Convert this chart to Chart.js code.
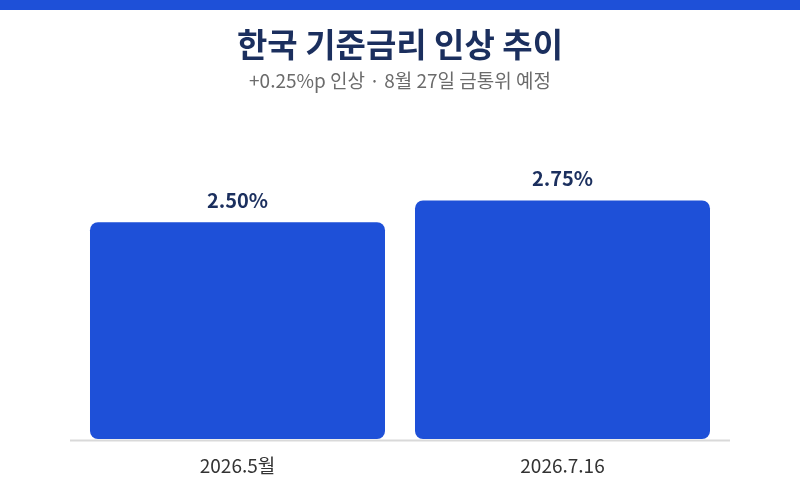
<!DOCTYPE html>
<html lang="ko">
<head>
<meta charset="utf-8">
<script src="https://cdn.jsdelivr.net/npm/chart.js@4/dist/chart.umd.min.js"></script>
<style>
  html, body { margin: 0; padding: 0; background: #fff; }
  #wrap { width: 800px; height: 500px; position: relative; }
</style>
</head>
<body>
<div id="wrap"><canvas id="chart"></canvas></div>
<script>
  /* ─── Data ─── */
  const categories = ["2026.5월", "2026.7.16"];
  const rates = [2.5, 2.75];
  const valueLabels = ["2.50%", "2.75%"];

  const FONT = "'Noto Sans CJK KR', 'Noto Sans', sans-serif";
  const BLUE = "#1e50d8";
  const NAVY = "#1b2f5e";

  /* ─── Top strip ─── */
  const topStrip = {
    id: "topStrip",
    beforeDraw: (chart) => {
      const ctx = chart.ctx;
      ctx.save();
      ctx.fillStyle = BLUE;
      ctx.fillRect(0, 0, chart.width, 10);
      ctx.restore();
    },
  };

  /* ─── Baseline (a bit wider than the plot area) ─── */
  const baseline = {
    id: "baseline",
    afterDatasetsDraw: (chart) => {
      const { ctx, chartArea } = chart;
      ctx.save();
      ctx.strokeStyle = "#d9d9d9";
      ctx.lineWidth = 2;
      ctx.beginPath();
      ctx.moveTo(chartArea.left - 5, chartArea.bottom + 1.5);
      ctx.lineTo(chartArea.right + 5, chartArea.bottom + 1.5);
      ctx.stroke();
      ctx.restore();
    },
  };

  /* ─── Value labels above bars ─── */
  const valueLabelPlugin = {
    id: "valueLabels",
    afterDatasetsDraw: (chart) => {
      const ctx = chart.ctx;
      const meta = chart.getDatasetMeta(0);
      ctx.save();
      ctx.font = `bold 20px ${FONT}`;
      ctx.fillStyle = NAVY;
      ctx.textAlign = "center";
      ctx.textBaseline = "bottom";
      meta.data.forEach((bar, i) => {
        ctx.fillText(valueLabels[i], bar.x, bar.y - 12);
      });
      ctx.restore();
    },
  };

  new Chart(document.getElementById("chart"), {
    type: "bar",
    data: {
      labels: categories,
      datasets: [{
        data: rates,
        backgroundColor: BLUE,
        borderRadius: 8,
        borderSkipped: false,
        barPercentage: 0.9077,
        categoryPercentage: 1,
      }],
    },
    options: {
      responsive: true,
      maintainAspectRatio: false,
      animation: false,
      layout: { padding: { left: 75, right: 75, top: 0, bottom: 7 } },
      plugins: {
        legend: { display: false },
        tooltip: { enabled: false },
        title: {
          display: true,
          text: "한국 기준금리 인상 추이",
          color: NAVY,
          font: { family: FONT, size: 33, weight: "bold", lineHeight: 1.2 },
          padding: { top: 25, bottom: 0 },
        },
        subtitle: {
          display: true,
          text: "+0.25%p 인상 · 8월 27일 금통위 예정",
          color: "#6b6b6b",
          font: { family: FONT, size: 19, lineHeight: 1.2 },
          padding: { top: 5, bottom: 43 },
        },
      },
      scales: {
        x: {
          grid: { display: false, drawTicks: false },
          border: { display: false },
          ticks: { color: "#333", padding: 15.6, font: { family: FONT, size: 19 } },
        },
        y: {
          display: false,
          min: 0,
          max: 3.5,
        },
      },
    },
    plugins: [topStrip, baseline, valueLabelPlugin],
  });
</script>
</body>
</html>
